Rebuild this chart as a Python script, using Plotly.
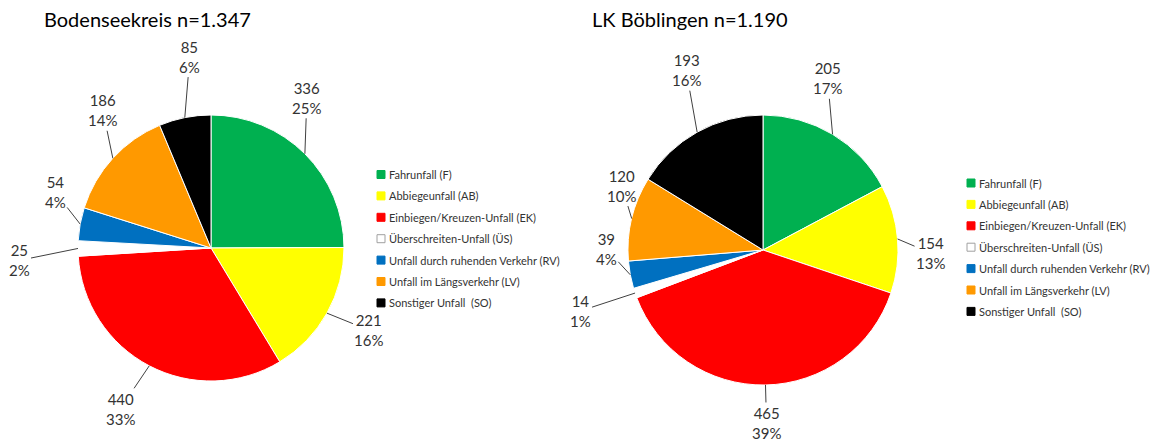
import math
import plotly.graph_objects as go

# ---------------- data ----------------
categories = ["Fahrunfall (F)", "Abbiegeunfall (AB)", "Einbiegen/Kreuzen-Unfall (EK)",
              "Überschreiten-Unfall (ÜS)", "Unfall durch ruhenden Verkehr (RV)",
              "Unfall im Längsverkehr (LV)", "Sonstiger Unfall  (SO)"]
bodensee_values = [336, 221, 440, 25, 54, 186, 85]
bodensee_pct = [25, 16, 33, 2, 4, 14, 6]
boeblingen_values = [205, 154, 465, 14, 39, 120, 193]
boeblingen_pct = [17, 13, 39, 1, 4, 10, 16]
titles = ["Bodenseekreis n=1.347", "LK Böblingen n=1.190"]

# ---------------- styling / layout ----------------
colors = ["#00B050", "#FFFF00", "#FF0000", "#FFFFFF", "#0070C0", "#FF9900", "#000000"]
W, H = 1162, 443
OFF = 8  # page body margin in the browser
FONT = "Lato"
TXT = "#333333"

pies = [
    dict(values=bodensee_values, pct=bodensee_pct, cx=211, cy=248, r=133,
         offsets=[(2, -56), (42, 17), (-29, 43), (-59, 12), (-25, -32), (-10, -48), (5, -61)],
         title_x=42, legend_x=377, legend_y=174.5, legend="l1"),
    dict(values=boeblingen_values, pct=boeblingen_pct, cx=763, cy=250, r=135,
         offsets=[(-5, -56), (33, 14), (1, 38), (-55, 18), (-24, -26), (-10, -33), (-11, -62)],
         title_x=590, legend_x=967, legend_y=183, legend="l2"),
]
LEG_STEP = 21.4
SQ = 8


def px(x, y):
    return (x - OFF) / W, 1 - (y - OFF) / H


fig = go.Figure()
annotations = []
shapes = []

for i, p in enumerate(pies):
    cx, cy, r = p["cx"], p["cy"], p["r"]
    x0, y1 = px(cx - r, cy - r)
    x1, y0 = px(cx + r, cy + r)
    fig.add_trace(go.Pie(
        values=p["values"], labels=categories, sort=False, direction="clockwise",
        rotation=0, textinfo="none", showlegend=False, hoverinfo="label+value+percent",
        marker=dict(colors=colors, line=dict(color="white", width=1)),
        domain=dict(x=[x0, x1], y=[y0, y1]),
    ))
    total = sum(p["values"])
    cum = 0
    for v, pc, (dx, dy) in zip(p["values"], p["pct"], p["offsets"]):
        mid = (cum + v / 2) / total * 2 * math.pi
        cum += v
        ex = cx + r * math.sin(mid)
        ey = cy - r * math.cos(mid)
        hx, hy = px(ex, ey)
        annotations.append(dict(
            x=hx, y=hy, xref="paper", yref="paper", ax=dx, ay=dy,
            text=f"{v}<br>{pc}%", showarrow=True, arrowhead=0, arrowwidth=1,
            arrowcolor="#404040", standoff=0, startstandoff=0,
            font=dict(family=FONT, size=15, color=TXT), align="center",
        ))
    # title
    tx, ty = px(p["title_x"], 19)
    annotations.append(dict(x=tx, y=ty, xref="paper", yref="paper", xanchor="left",
                            yanchor="middle", showarrow=False, text=titles[i],
                            font=dict(family=FONT, size=20, color="#000000")))
    # manual legend
    for k, (lab, col) in enumerate(zip(categories, colors)):
        yc = p["legend_y"] + k * LEG_STEP
        sx0, sy1 = px(p["legend_x"], yc - SQ / 2)
        sx1, sy0 = px(p["legend_x"] + SQ, yc + SQ / 2)
        shapes.append(dict(type="rect", xref="paper", yref="paper",
                           x0=sx0, x1=sx1, y0=sy0, y1=sy1, fillcolor=col,
                           line=dict(color="#A0A0A0" if col == "#FFFFFF" else col, width=1)))
        lx, ly = px(p["legend_x"] + SQ + 2, yc)
        annotations.append(dict(x=lx, y=ly, xref="paper", yref="paper", xanchor="left",
                                yanchor="middle", showarrow=False, text=lab,
                                font=dict(family=FONT, size=11, color=TXT)))

fig.update_layout(
    width=W, height=H, margin=dict(l=0, r=0, t=0, b=0),
    paper_bgcolor="white", plot_bgcolor="white",
    annotations=annotations, shapes=shapes, showlegend=False,
)
fig.write_html("out.html")
